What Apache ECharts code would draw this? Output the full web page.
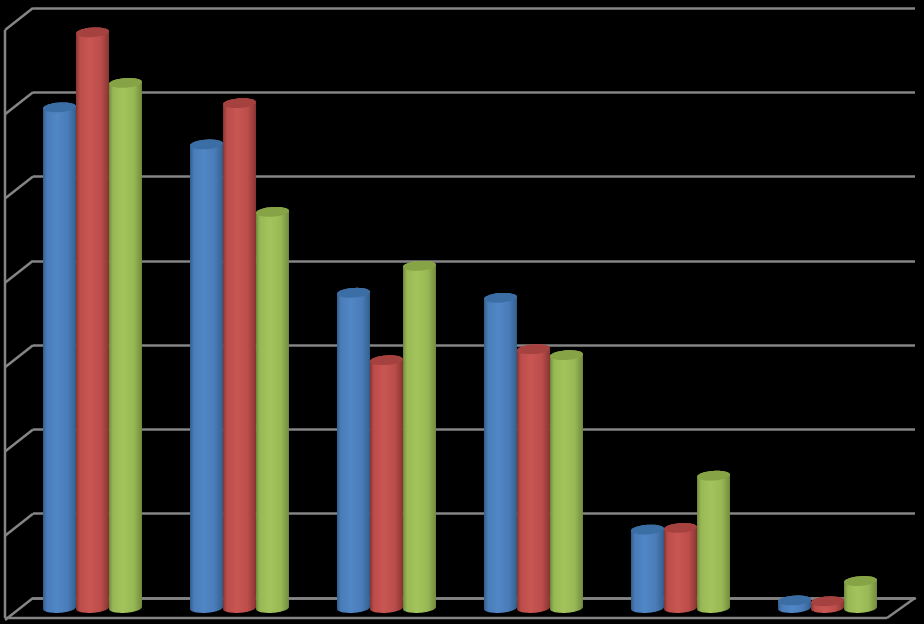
<!DOCTYPE html>
<html><head><meta charset="utf-8">
<style>html,body{margin:0;padding:0;background:#000}#c{width:924px;height:624px}</style>
<script src="https://cdn.jsdelivr.net/npm/echarts@6/dist/echarts.min.js"></script>
</head><body><div id="c"></div>
<script>
const categories = ['1','2','3','4','5','6'];
const blueValues = [5.94,5.50,3.74,3.68,0.93,0.09];
const redValues = [6.83,5.99,2.94,3.07,0.95,0.08];
const greenValues = [6.23,4.70,4.06,3.00,1.57,0.32];
const tickValues = [0,1,2,3,4,5,6,7];
const palettes = [
  {dark:'#33608f',mid:'#4a7cb8',light:'#5087c6',top:'#3c6ea6'},
  {dark:'#8a3634',mid:'#bb4d4a',light:'#c95652',top:'#a5413e'},
  {dark:'#728c3e',mid:'#98b855',light:'#a3c45c',top:'#86a345'}
];
const DX=14, DY=20, BAR=33, RY=4.8, TILT=-4*Math.PI/180, LINE='#858585';
const chart = echarts.init(document.getElementById('c'));
function ell(cx,cy,rx,t){
  const c=Math.cos(t), s=Math.sin(t);
  return [cx+rx*c*Math.cos(TILT)-RY*s*Math.sin(TILT), cy+rx*c*Math.sin(TILT)+RY*s*Math.cos(TILT)];
}
function cyl(seriesIndex){
  return function(params,api){
    const p=palettes[seriesIndex];
    const band=api.size([1,0])[0];
    const w=band*BAR/147;
    const top=api.coord([api.value(0),api.value(1)]);
    const base=api.coord([api.value(0),0]);
    const cx=top[0]-DX+(seriesIndex-1)*w;
    const yt=top[1]+DY/2, yb=base[1]+DY/2;
    const rx=w/2, N=32, body=[], cap=[];
    for(let i=0;i<=N;i++) body.push(ell(cx,yb,rx,Math.PI-Math.PI*i/N));
    for(let i=0;i<=N;i++) body.push(ell(cx,yt,rx,-Math.PI*i/N));
    for(let i=0;i<N*2;i++) cap.push(ell(cx,yt,rx,Math.PI*i/N));
    const fill=new echarts.graphic.LinearGradient(0,0,1,0,[
      {offset:0,color:p.dark},{offset:.12,color:p.mid},{offset:.42,color:p.light},
      {offset:.75,color:p.mid},{offset:1,color:p.dark}]);
    return {type:'group',children:[
      {type:'polygon',shape:{points:body},style:{fill}},
      {type:'polygon',shape:{points:cap},style:{fill:p.top}}
    ]};
  };
}
function mk(i,vals){return {type:'custom',coordinateSystem:'cartesian2d',renderItem:cyl(i),
  data:vals.map((v,k)=>[k,v]),encode:{x:0,y:1},z:5+i,silent:true,clip:false};}
chart.setOption({
  animation:false,backgroundColor:'#000',
  grid:{left:33,top:8,width:882,height:590},
  xAxis:{type:'category',data:categories,axisLabel:{show:false},axisTick:{show:false},
    axisLine:{show:true,lineStyle:{color:LINE,width:2.5}},splitLine:{show:false}},
  yAxis:{type:'value',min:0,max:7,interval:1,axisLabel:{show:false},axisTick:{show:false},axisLine:{show:false},
    splitLine:{show:true,lineStyle:{color:LINE,width:2.5}}},
  series:[
    {type:'custom',coordinateSystem:'cartesian2d',silent:true,clip:false,z:1,
     data:tickValues.map(v=>[0,v]),encode:{x:0,y:1},
     renderItem(params,api){
       const band=api.size([1,0])[0];
       const c=api.coord([0,api.value(1)]);
       const bx=c[0]-band/2;
       const ln={stroke:LINE,lineWidth:2.5,fill:null};
       const kids=[{type:'line',shape:{x1:bx,y1:c[1],x2:bx-28,y2:c[1]+22},style:ln}];
       if(api.value(1)===0){
         const top=api.coord([0,7])[1];
         kids.push({type:'line',shape:{x1:bx-28,y1:c[1]+20,x2:bx-28,y2:top+22},style:ln});
         kids.push({type:'line',shape:{x1:bx-28,y1:c[1]+20,x2:bx-28+band*6,y2:c[1]+20},style:ln});
         kids.push({type:'line',shape:{x1:bx+band*6,y1:c[1],x2:bx-28+band*6,y2:c[1]+20},style:ln});
       }
       return {type:'group',children:kids};
     }},
    mk(0,blueValues),mk(1,redValues),mk(2,greenValues)
  ]
});
</script></body></html>
